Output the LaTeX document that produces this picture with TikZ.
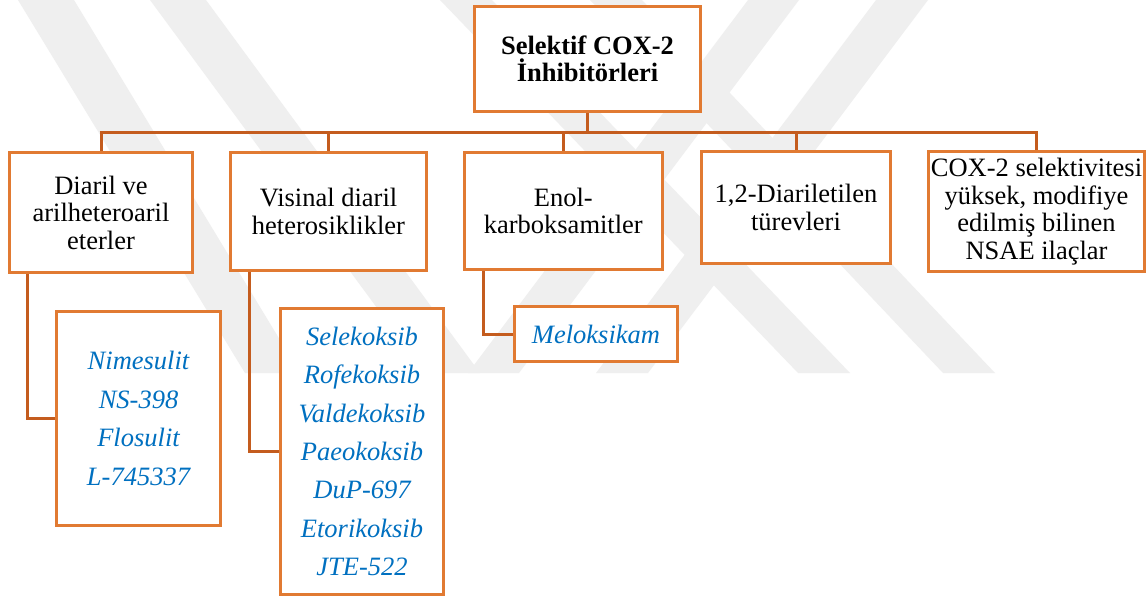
\documentclass[tikz,border=0pt]{standalone}
\usepackage{fontspec}
\setmainfont{Liberation Serif}
\definecolor{boxc}{RGB}{225,122,50}
\definecolor{linec}{RGB}{196,92,30}
\definecolor{txtblue}{RGB}{0,112,192}
\definecolor{wm}{RGB}{239,239,239}
\tikzset{
  box/.style={draw=boxc, line width=3pt, fill=white, align=center, inner sep=0pt,
    font=\fontsize{26.5}{27.5}\selectfont},
  titlebox/.style={box, font=\fontsize{26.5}{27.5}\selectfont\bfseries},
  drug/.style={box, text=txtblue, font=\fontsize{26.5}{38.4}\selectfont\itshape},
  conn/.style={draw=linec, line width=3pt},
  band/.style={fill=wm, draw=none},
}
\begin{document}
\begin{tikzpicture}[x=1pt,y=-1pt]
\useasboundingbox (0,0) rectangle (1147,598);
\fill[white] (0,0) rectangle (1147,598);
% faint watermark
\fill[band] (18,0) -- (74,0) -- (300,373) -- (245,373) -- cycle;
\fill[band] (150,0) -- (206,0) -- (480,373) -- (425,373) -- cycle;
\fill[band] (748,0) -- (799,0) -- (519,373) -- (468,373) -- cycle;
\fill[band] (876,0) -- (928,0) -- (648,373) -- (596,373) -- cycle;
\fill[band] (440,0) -- (492,0) -- (850,373) -- (798,373) -- cycle;
\fill[band] (590,0) -- (642,0) -- (995,373) -- (943,373) -- cycle;

\coordinate (busy) at (0,132.7);
\node[titlebox, minimum width=226pt, minimum height=105pt] (top) at (587.5,59) {Selektif COX-2\\İnhibitörleri};
\node[box, minimum width=183pt, minimum height=120pt] (b1) at (101,212.5) {Diaril ve\\arilheteroaril\\eterler};
\node[box, minimum width=196pt, minimum height=118pt] (b2) at (328.5,211.5) {Visinal diaril\\heterosiklikler};
\node[box, minimum width=198pt, minimum height=117pt] (b3) at (563.3,211) {Enol-\\karboksamitler};
\node[box, minimum width=189pt, minimum height=112pt] (b4) at (796,207.5) {1,2-Diariletilen\\türevleri};
\node[box, minimum width=216pt, minimum height=120pt] (b5) at (1036.5,211.5) {COX-2 selektivitesi\\yüksek, modifiye\\edilmiş bilinen\\NSAE ilaçlar};

\node[drug, minimum width=164pt, minimum height=214pt] (nim) at (138.5,418.5) {Nimesulit\\NS-398\\Flosulit\\L-745337};
\node[drug, minimum width=163pt, minimum height=286pt] (sel) at (362,451.5) {Selekoksib\\Rofekoksib\\Valdekoksib\\Paeokoksib\\DuP-697\\Etorikoksib\\JTE-522};
\node[drug, minimum width=163pt, minimum height=55pt] (mel) at (596,334) {Meloksikam};

\draw[conn] (top.south) -- (top.south |- busy);
\draw[conn] ([xshift=-1.5pt]b1.north |- busy) -- ([xshift=1.5pt]b5.north |- busy);
\foreach \b in {b1,b2,b3,b4,b5} {\draw[conn] (\b.north |- busy) -- (\b.north);}
\draw[conn] ([xshift=-74pt]b1.south) |- (nim.west);
\draw[conn] ([xshift=-79.5pt]b2.south) |- (sel.west);
\draw[conn] ([xshift=-80.3pt]b3.south) |- (mel.west);
\end{tikzpicture}
\end{document}
